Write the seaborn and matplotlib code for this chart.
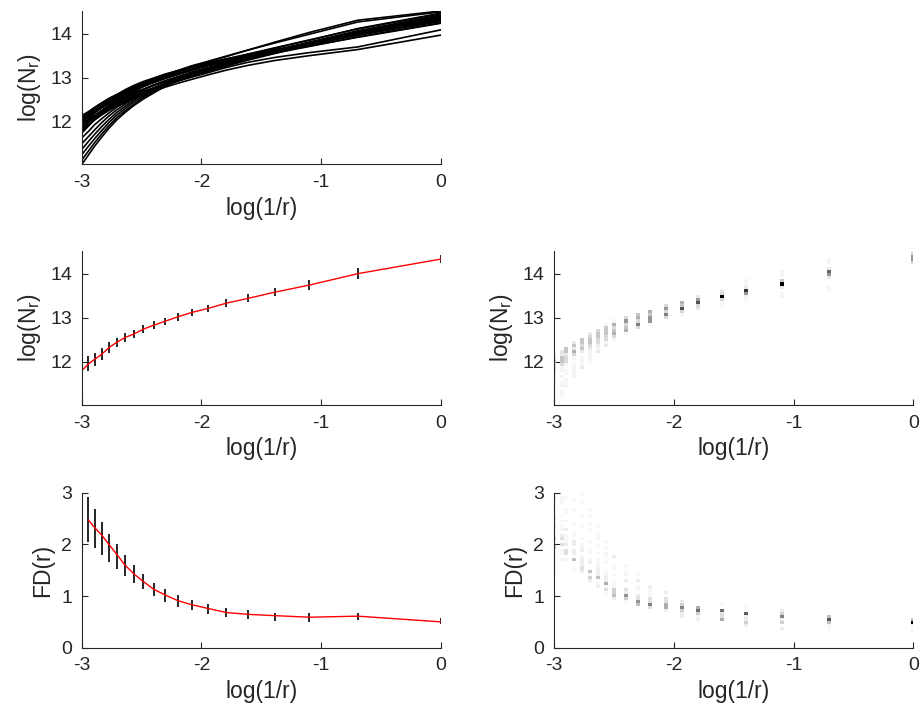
import numpy as np
import pandas as pd
import matplotlib
matplotlib.use("Agg")
import matplotlib.pyplot as plt
import seaborn as sns

# log(1/r) for r = 20 ... 1
log_inv_r = [-2.996, -2.944, -2.890, -2.833, -2.773, -2.708, -2.639, -2.565, -2.485, -2.398,
             -2.303, -2.197, -2.079, -1.946, -1.792, -1.609, -1.386, -1.099, -0.693, 0.0]

# individual log(N_r) curves
curves = [
    [12.14, 12.22, 12.32, 12.42, 12.52, 12.61, 12.69, 12.79, 12.88, 12.96, 13.04, 13.13, 13.23, 13.32, 13.42, 13.54, 13.68, 13.86, 14.11, 14.46],
    [12.10, 12.21, 12.32, 12.42, 12.52, 12.61, 12.72, 12.82, 12.91, 12.99, 13.08, 13.16, 13.26, 13.34, 13.43, 13.53, 13.64, 13.78, 13.99, 14.31],
    [12.03, 12.12, 12.22, 12.31, 12.40, 12.49, 12.57, 12.66, 12.73, 12.82, 12.90, 12.99, 13.09, 13.20, 13.31, 13.45, 13.61, 13.79, 14.05, 14.41],
    [12.02, 12.12, 12.23, 12.33, 12.44, 12.53, 12.62, 12.72, 12.81, 12.89, 12.98, 13.07, 13.17, 13.28, 13.38, 13.52, 13.67, 13.85, 14.12, 14.47],
    [11.99, 12.10, 12.21, 12.33, 12.44, 12.53, 12.64, 12.74, 12.83, 12.92, 13.01, 13.09, 13.19, 13.28, 13.39, 13.49, 13.62, 13.78, 14.00, 14.34],
    [11.93, 12.04, 12.14, 12.24, 12.34, 12.42, 12.52, 12.61, 12.69, 12.77, 12.86, 12.95, 13.05, 13.16, 13.29, 13.42, 13.57, 13.76, 14.01, 14.37],
    [11.94, 12.06, 12.19, 12.31, 12.43, 12.54, 12.65, 12.76, 12.86, 12.95, 13.04, 13.13, 13.23, 13.31, 13.41, 13.51, 13.62, 13.76, 13.97, 14.28],
    [11.89, 11.99, 12.12, 12.23, 12.35, 12.45, 12.54, 12.64, 12.73, 12.83, 12.92, 13.01, 13.11, 13.22, 13.33, 13.47, 13.62, 13.81, 14.07, 14.43],
    [11.87, 12.00, 12.13, 12.25, 12.37, 12.49, 12.59, 12.71, 12.80, 12.89, 12.98, 13.07, 13.17, 13.27, 13.36, 13.46, 13.58, 13.72, 13.92, 14.24],
    [11.80, 11.92, 12.04, 12.15, 12.26, 12.36, 12.46, 12.56, 12.64, 12.74, 12.83, 12.92, 13.03, 13.14, 13.26, 13.40, 13.55, 13.74, 13.99, 14.34],
    [11.78, 11.91, 12.05, 12.18, 12.30, 12.41, 12.53, 12.64, 12.73, 12.83, 12.93, 13.02, 13.13, 13.23, 13.35, 13.47, 13.62, 13.80, 14.05, 14.40],
    [11.74, 11.89, 12.04, 12.19, 12.32, 12.44, 12.57, 12.68, 12.79, 12.89, 12.99, 13.09, 13.19, 13.28, 13.39, 13.49, 13.62, 13.76, 13.97, 14.30],
    [11.63, 11.77, 11.93, 12.06, 12.19, 12.32, 12.43, 12.55, 12.65, 12.75, 12.85, 12.95, 13.06, 13.17, 13.28, 13.42, 13.58, 13.76, 14.02, 14.36],
    [11.50, 11.65, 11.81, 11.97, 12.12, 12.26, 12.39, 12.52, 12.64, 12.76, 12.87, 12.98, 13.10, 13.21, 13.33, 13.46, 13.61, 13.79, 14.03, 14.38],
    [11.37, 11.54, 11.71, 11.88, 12.04, 12.20, 12.34, 12.48, 12.61, 12.73, 12.85, 12.97, 13.09, 13.21, 13.33, 13.45, 13.58, 13.75, 13.98, 14.31],
    [11.25, 11.43, 11.61, 11.79, 11.97, 12.14, 12.29, 12.44, 12.57, 12.70, 12.83, 12.96, 13.08, 13.20, 13.33, 13.45, 13.60, 13.77, 14.01, 14.37],
    [11.13, 11.32, 11.52, 11.71, 11.90, 12.08, 12.24, 12.39, 12.54, 12.68, 12.81, 12.94, 13.08, 13.20, 13.32, 13.45, 13.56, 13.71, 13.93, 14.25],
    [11.03, 11.23, 11.44, 11.64, 11.84, 12.03, 12.20, 12.36, 12.51, 12.65, 12.80, 12.93, 13.07, 13.19, 13.32, 13.45, 13.60, 13.77, 14.01, 14.35],
    [12.08, 12.18, 12.28, 12.38, 12.48, 12.57, 12.66, 12.76, 12.85, 12.94, 13.03, 13.13, 13.24, 13.36, 13.48, 13.63, 13.81, 14.03, 14.31, 14.52],
    [12.04, 12.15, 12.26, 12.37, 12.48, 12.58, 12.68, 12.78, 12.88, 12.97, 13.06, 13.16, 13.27, 13.37, 13.49, 13.63, 13.79, 13.99, 14.27, 14.50],
    [11.83, 11.93, 12.04, 12.15, 12.25, 12.35, 12.43, 12.52, 12.60, 12.69, 12.78, 12.87, 12.96, 13.06, 13.17, 13.28, 13.39, 13.50, 13.64, 13.97],
    [11.86, 11.98, 12.09, 12.19, 12.29, 12.39, 12.49, 12.58, 12.66, 12.75, 12.84, 12.92, 13.01, 13.11, 13.23, 13.35, 13.46, 13.57, 13.70, 14.09],
]

# mean log(N_r) and error bar half-length
nr_mean = [11.81, 11.95, 12.06, 12.17, 12.32, 12.44, 12.55, 12.63, 12.74, 12.83,
           12.92, 13.02, 13.12, 13.21, 13.33, 13.44, 13.58, 13.74, 14.00, 14.33]
nr_err = [0.19, 0.17, 0.145, 0.14, 0.12, 0.10, 0.10, 0.10, 0.09, 0.09,
          0.083, 0.087, 0.087, 0.083, 0.083, 0.087, 0.095, 0.11, 0.12, 0.10]

# mean FD(r) (from the 2nd point on) and error bar extents
fd_mean = [2.47, 2.32, 2.18, 2.00, 1.81, 1.60, 1.43, 1.28, 1.13, 1.02,
           0.91, 0.83, 0.76, 0.68, 0.645, 0.62, 0.59, 0.61, 0.50]
fd_lo = [2.05, 2.05, 1.92, 1.79, 1.66, 1.52, 1.39, 1.25, 1.13, 1.00,
         0.89, 0.79, 0.73, 0.66, 0.60, 0.55, 0.52, 0.50, 0.54, 0.45]
fd_hi = [3.05, 2.92, 2.68, 2.43, 2.20, 2.00, 1.79, 1.60, 1.43, 1.26,
         1.14, 1.02, 0.92, 0.84, 0.76, 0.72, 0.68, 0.68, 0.68, 0.57]

sns.set_style("ticks")
plt.rcParams["font.family"] = ["Liberation Sans", "DejaVu Sans"]
plt.rcParams["axes.unicode_minus"] = False
txt = "#262626"

x = np.array(log_inv_r)
nr = np.array(curves)
fd = np.gradient(nr, x, axis=1)
n_curves = nr.shape[0]

df_curves = pd.DataFrame({
    "x": np.tile(x, n_curves),
    "nr": nr.ravel(),
    "fd": fd.ravel(),
    "curve": np.repeat(np.arange(n_curves), len(x)),
})

fig = plt.figure(figsize=(9.22, 7.13), dpi=100)
L, R, W = 0.0886, 0.6009, 0.3897
ax_top = fig.add_axes([L, 0.7696, W, 0.2150])
ax_ml = fig.add_axes([L, 0.4320, W, 0.2164])
ax_mr = fig.add_axes([R, 0.4320, W, 0.2164])
ax_bl = fig.add_axes([L, 0.0916, W, 0.2174])
ax_br = fig.add_axes([R, 0.0916, W, 0.2174])

nr_lim = (11.02, 14.52)
w = 3 / 90

# all curves
sns.lineplot(data=df_curves, x="x", y="nr", units="curve", estimator=None,
             color="black", lw=1.2, ax=ax_top, legend=False)

# mean with error bars
ax_ml.vlines(x, np.array(nr_mean) - nr_err, np.array(nr_mean) + nr_err, color="black", lw=1.2)
sns.lineplot(x=x, y=nr_mean, color="red", lw=1.0, ax=ax_ml)

ax_bl.vlines(x, fd_lo, fd_hi, color="black", lw=1.2)
sns.lineplot(x=x[1:], y=fd_mean, color="red", lw=1.0, ax=ax_bl)

# density images
sns.histplot(data=df_curves, x="x", y="nr", bins=(91, 51),
             binrange=((-3 - w / 2, w / 2), (11.0, 14.57)),
             cmap="Greys", ax=ax_mr)
sns.histplot(data=df_curves, x="x", y="fd", bins=(91, 52),
             binrange=((-3 - w / 2, w / 2), (0.0, 3.0)),
             cmap="Greys", ax=ax_br)

for ax, ylim, yticks, ylab in [
    (ax_top, nr_lim, [12, 13, 14], "log(N$_\\mathregular{r}$)"),
    (ax_ml, nr_lim, [12, 13, 14], "log(N$_\\mathregular{r}$)"),
    (ax_mr, nr_lim, [12, 13, 14], "log(N$_\\mathregular{r}$)"),
    (ax_bl, (0, 3), [0, 1, 2, 3], "FD(r)"),
    (ax_br, (0, 3), [0, 1, 2, 3], "FD(r)"),
]:
    ax.set_xlim(-3, 0)
    ax.set_ylim(*ylim)
    ax.set_xticks([-3, -2, -1, 0])
    ax.set_yticks(yticks)
    sns.despine(ax=ax)
    for s in ["left", "bottom"]:
        ax.spines[s].set_color(txt)
        ax.spines[s].set_linewidth(0.8)
    ax.tick_params(direction="in", length=4, width=0.8, labelsize=14,
                   colors=txt, pad=7)
    ax.set_xlabel("log(1/r)", fontsize=16.5, color=txt, labelpad=4)
    ax.set_ylabel(ylab, fontsize=16.5, color=txt, labelpad=5)

fig.savefig("out.png", dpi=100)
